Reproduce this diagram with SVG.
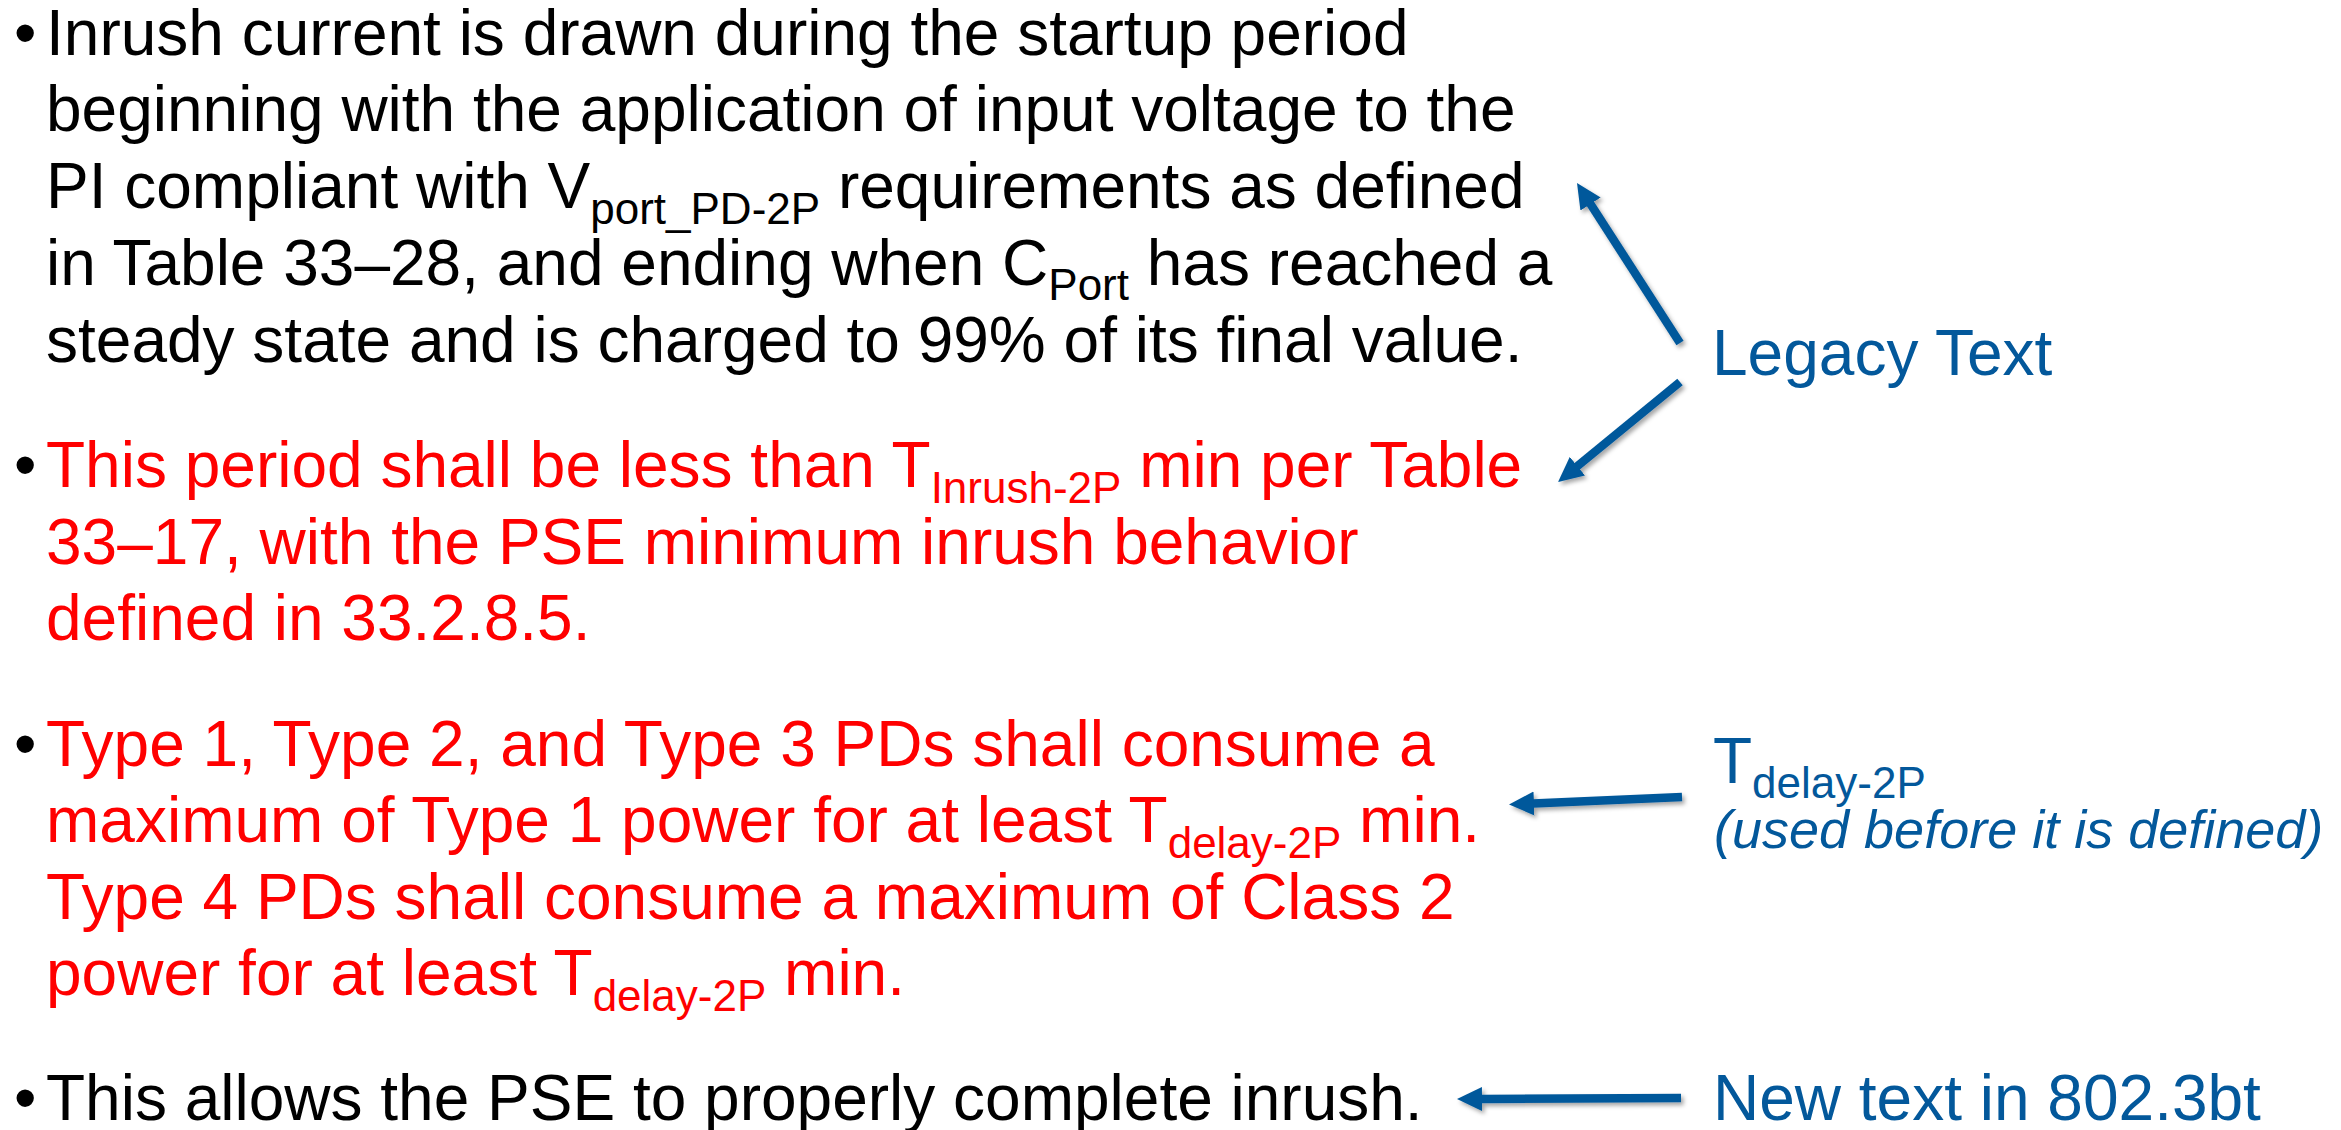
<svg xmlns="http://www.w3.org/2000/svg" width="2341" height="1130" viewBox="0 0 2341 1130">
<style>
text{font-family:"Liberation Sans",Arial,sans-serif;font-size:64px;}
.blk{fill:#000000;}
.red{fill:#FF0000;}
.blue{fill:#03589B;}
.sub{font-size:44px;}
.it{font-style:italic;font-size:54px;}
.arrow{stroke:#03589B;stroke-width:8.5;fill:none;marker-end:url(#ah);}
</style>
<defs>
<marker id="ah" markerUnits="userSpaceOnUse" markerWidth="26" markerHeight="26" viewBox="0 0 26 26" refX="1" refY="13" orient="auto">
<path d="M0,1 L25,13 L0,25 z" fill="#03589B"/>
</marker>
<filter id="sh" x="-20%" y="-20%" width="140%" height="140%">
<feDropShadow dx="2.5" dy="3" stdDeviation="2.2" flood-color="#000" flood-opacity="0.35"/>
</filter>
</defs>
<rect width="2341" height="1130" fill="#FFFFFF"/>

<g id="bullet-legacy">
<text class="blk" x="14" y="54.5">•</text>
<text class="blk" x="46" y="54.5">Inrush current is drawn during the startup period</text>
<text class="blk" x="46" y="131.3">beginning with the application of input voltage to the</text>
<text class="blk" x="46" y="208"><tspan>PI compliant with V</tspan><tspan class="sub" dy="15.5">port_PD-2P</tspan><tspan dy="-15.5"> requirements as defined</tspan></text>
<text class="blk" x="46" y="284.8"><tspan>in Table 33–28, and ending when C</tspan><tspan class="sub" dy="15.5">Port</tspan><tspan dy="-15.5"> has reached a</tspan></text>
<text class="blk" x="46" y="361.6">steady state and is charged to 99% of its final value.</text>
</g>

<g id="bullet-inrush-period">
<text class="blk" x="14" y="487">•</text>
<text class="red" x="46" y="487"><tspan>This period shall be less than T</tspan><tspan class="sub" dy="15.5">Inrush-2P</tspan><tspan dy="-15.5"> min per Table</tspan></text>
<text class="red" x="46" y="563.5">33–17, with the PSE minimum inrush behavior</text>
<text class="red" x="46" y="640">defined in 33.2.8.5.</text>
</g>

<g id="bullet-type-power">
<text class="blk" x="14" y="766">•</text>
<text class="red" x="46" y="766">Type 1, Type 2, and Type 3 PDs shall consume a</text>
<text class="red" x="46" y="842.3"><tspan>maximum of Type 1 power for at least T</tspan><tspan class="sub" dy="15.5">delay-2P</tspan><tspan dy="-15.5"> min.</tspan></text>
<text class="red" x="46" y="918.7">Type 4 PDs shall consume a maximum of Class 2</text>
<text class="red" x="46" y="995"><tspan>power for at least T</tspan><tspan class="sub" dy="15.5">delay-2P</tspan><tspan dy="-15.5"> min.</tspan></text>
</g>

<g id="bullet-new">
<text class="blk" x="14" y="1120">•</text>
<text class="blk" x="46" y="1120">This allows the PSE to properly complete inrush.</text>
</g>

<g id="label-legacy">
<text class="blue" x="1712" y="374.5">Legacy Text</text>
</g>

<g id="label-tdelay">
<text class="blue" x="1713" y="782.5"><tspan>T</tspan><tspan class="sub" dy="15.5">delay-2P</tspan></text>
<text class="blue it" x="1714" y="848">(used before it is defined)</text>
</g>

<g id="label-new">
<text class="blue" x="1713" y="1120">New text in 802.3bt</text>
</g>

<g id="connectors" filter="url(#sh)">
<line class="arrow" x1="1680" y1="343" x2="1590" y2="203.2"/>
<line class="arrow" x1="1680" y1="382" x2="1576.6" y2="466.8"/>
<line class="arrow" x1="1682" y1="797" x2="1533" y2="803.5"/>
<line class="arrow" x1="1681" y1="1098" x2="1481" y2="1099"/>
</g>
</svg>
